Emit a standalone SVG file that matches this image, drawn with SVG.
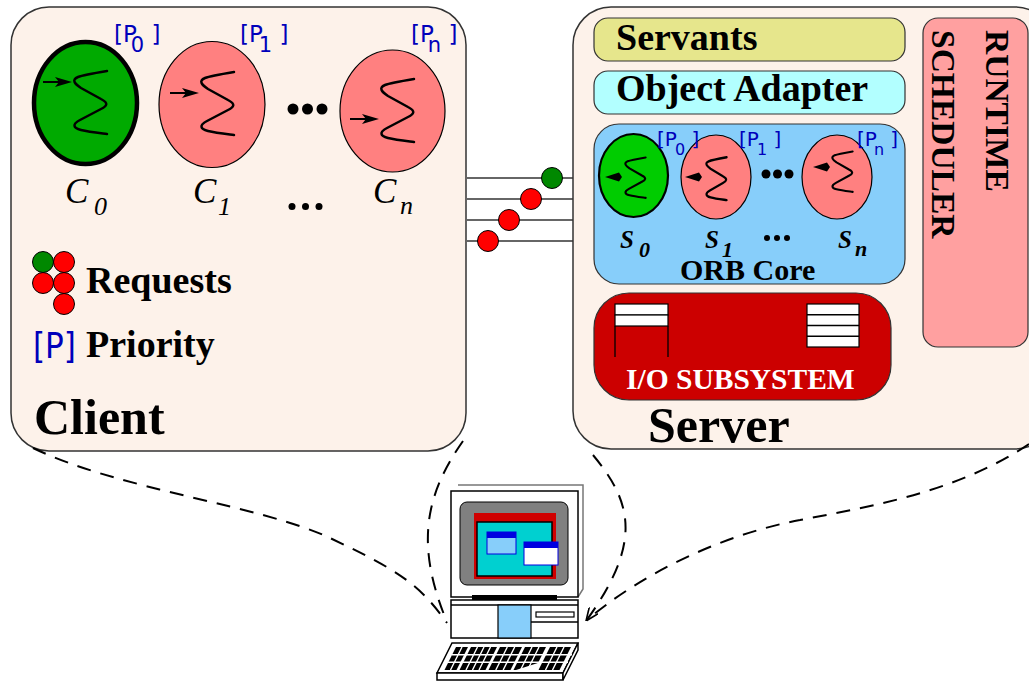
<svg xmlns="http://www.w3.org/2000/svg" width="1029" height="681" viewBox="0 0 1029 681">
<defs>
<style>
.panel{fill:#fdf2ea;stroke:#333;stroke-width:1.5}
.bold{font-family:"Liberation Serif","Times New Roman",serif;font-weight:bold;fill:#000}
.ital{font-family:"Liberation Serif","Times New Roman",serif;font-style:italic;fill:#000}
.bital{font-family:"Liberation Serif","Times New Roman",serif;font-style:italic;font-weight:bold;fill:#000}
.prio{font-family:"DejaVu Sans","Liberation Sans",sans-serif;fill:#0000bb}
.thread{fill:none;stroke:#000;stroke-width:2.5;stroke-linecap:round;stroke-linejoin:round}
.thread-s{fill:none;stroke:#000;stroke-width:3.4;stroke-linecap:round;stroke-linejoin:round}
.lo{fill:#ff8080;stroke:#000;stroke-width:1.2}
.dash{fill:none;stroke:#000;stroke-width:2;stroke-dasharray:14 10}
.wire{stroke:#333;stroke-width:1.5}
.req-hi{fill:#008800;stroke:#000;stroke-width:1}
.req-lo{fill:#ff0000;stroke:#000;stroke-width:1}
.tail{stroke:#000;stroke-width:2}
.ln{fill:none;stroke:#000;stroke-width:1.3}
.key{fill:#000}
.keygap{fill:none;stroke:#fff;stroke-width:1.4}
</style>
<!-- thread zigzag, drawn around its task's centre -->
<path id="wave" d="M22,-32 C10,-30 -2,-28 -7,-26 C-14,-23 -10,-19 -4,-15 L16,-4 C24,0 22,3 16,6 L-5,17 C-13,21 -12,25 -4,27 C4,29 14,30 22,31"/>
<!-- filled arrow head whose tip sits 13px left of the origin -->
<path id="head" d="M-13,0 L-30,-5 L-26,0 L-30,5 Z"/>
<!-- server-side entry point -->
<path id="shead" d="M0,0 L14,-4.5 L17,0 L14,4.5 Z"/>
<marker id="open-arrow" viewBox="0 0 12 10" refX="12" refY="5" markerWidth="13" markerHeight="11" markerUnits="userSpaceOnUse" orient="auto">
<path d="M0,0 L12,5 L0,10" fill="none" stroke="#000" stroke-width="1.5"/>
</marker>
</defs>

<rect width="1029" height="681" fill="#fff"/>

<!-- client host -->
<g id="client">
<rect class="panel" x="11" y="7" width="455" height="444" rx="38"/>
<ellipse cx="85.5" cy="103" rx="51.5" ry="61" fill="#00aa00" stroke="#000" stroke-width="4.5"/>
<use href="#wave" class="thread" transform="translate(85,103)"/>
<line class="tail" x1="43" y1="82" x2="64" y2="82"/>
<use href="#head" transform="translate(85,82)"/>
<ellipse class="lo" cx="212" cy="104.5" rx="53" ry="63"/>
<use href="#wave" class="thread" transform="translate(212,104)"/>
<line class="tail" x1="170" y1="93" x2="191" y2="93"/>
<use href="#head" transform="translate(212,93)"/>
<g fill="#000"><circle cx="293" cy="109" r="5.5"/><circle cx="307.5" cy="109" r="5.5"/><circle cx="322" cy="109" r="5.5"/></g>
<ellipse class="lo" cx="392.5" cy="111" rx="52.5" ry="61"/>
<use href="#wave" class="thread" transform="translate(392,111)"/>
<line class="tail" x1="350" y1="119" x2="371" y2="119"/>
<use href="#head" transform="translate(392,119)"/>

<text class="prio" x="114" y="42" font-size="23">[P<tspan dy="10" dx="-6" font-size="21">0</tspan><tspan dy="-10"> ]</tspan></text>
<text class="prio" x="240" y="42" font-size="23">[P<tspan dy="10" dx="-4" font-size="21">1</tspan><tspan dy="-10"> ]</tspan></text>
<text class="prio" x="411" y="42" font-size="23">[P<tspan dy="10" dx="-6" font-size="21">n</tspan><tspan dy="-10"> ]</tspan></text>

<text class="ital" x="65" y="203" font-size="35">C</text><text class="ital" x="94" y="215" font-size="26">0</text>
<text class="ital" x="193" y="203" font-size="35">C</text><text class="ital" x="218" y="215" font-size="26">1</text>
<g fill="#000"><circle cx="292" cy="206.5" r="3.5"/><circle cx="305.5" cy="206.5" r="3.5"/><circle cx="319" cy="206.5" r="3.5"/></g>
<text class="ital" x="373" y="203" font-size="35">C</text><text class="ital" x="400" y="214" font-size="26">n</text>

<circle class="req-hi" cx="43" cy="262" r="10.5"/>
<circle class="req-lo" cx="64" cy="262" r="10.5"/>
<circle class="req-lo" cx="43" cy="283" r="10.5"/>
<circle class="req-lo" cx="64" cy="283" r="10.5"/>
<circle class="req-lo" cx="64" cy="304" r="10.5"/>
<text class="bold" x="86" y="293" font-size="38">Requests</text>
<text class="prio" x="33" y="358" font-size="36" textLength="43" lengthAdjust="spacingAndGlyphs">[P]</text>
<text class="bold" x="86" y="357" font-size="38">Priority</text>
<text class="bold" x="34" y="434" font-size="50">Client</text>
</g>

<!-- server host -->
<g id="server">
<rect class="panel" x="573" y="7" width="480" height="442" rx="38"/>
<text class="bold" x="648" y="442" font-size="50">Server</text>
</g>

<g id="servants">
<rect x="594" y="18" width="311" height="43" rx="14" fill="#e6e68c" stroke="#333" stroke-width="1.2"/>
<text class="bold" x="616" y="50" font-size="38">Servants</text>
</g>

<g id="object-adapter">
<rect x="594" y="71" width="311" height="43" rx="14" fill="#b2ffff" stroke="#333" stroke-width="1.2"/>
<text class="bold" x="616" y="101" font-size="38">Object Adapter</text>
</g>

<g id="orb-core">
<rect x="594" y="124" width="311" height="160" rx="25" fill="#87cefa" stroke="#333" stroke-width="1.2"/>
<ellipse cx="633.5" cy="175.5" rx="34.5" ry="41.5" fill="#00cc00" stroke="#000" stroke-width="2.2"/>
<use href="#wave" class="thread-s" transform="translate(632,178) scale(0.62,0.64)"/>
<use href="#shead" transform="translate(605,177)"/>
<ellipse class="lo" cx="716" cy="177" rx="35" ry="42"/>
<use href="#wave" class="thread-s" transform="translate(713,179) scale(0.62,0.68)"/>
<use href="#shead" transform="translate(685,177)"/>
<g fill="#000"><circle cx="766" cy="174" r="4.5"/><circle cx="777.5" cy="174" r="4.5"/><circle cx="789" cy="174" r="4.5"/></g>
<ellipse class="lo" cx="837" cy="177" rx="35" ry="42"/>
<use href="#wave" class="thread-s" transform="translate(839,172) scale(0.62,0.64)"/>
<use href="#shead" transform="translate(813,167)"/>

<text class="prio" x="657" y="146" font-size="20">[P<tspan dy="9" dx="-2" font-size="16">0</tspan><tspan dy="-9"> ]</tspan></text>
<text class="prio" x="739" y="146" font-size="20">[P<tspan dy="9" dx="-2" font-size="16">1</tspan><tspan dy="-9"> ]</tspan></text>
<text class="prio" x="857" y="146" font-size="20">[P<tspan dy="9" dx="-3" font-size="16">n</tspan><tspan dy="-9"> ]</tspan></text>

<text class="bital" x="620" y="248" font-size="25">S</text><text class="bital" x="639" y="257" font-size="22">0</text>
<text class="bital" x="705" y="248" font-size="25">S</text><text class="bital" x="722" y="257" font-size="22">1</text>
<g fill="#000"><circle cx="767" cy="238" r="3"/><circle cx="777" cy="238" r="3"/><circle cx="787" cy="238" r="3"/></g>
<text class="bital" x="838" y="248" font-size="25">S</text><text class="bital" x="855" y="256" font-size="22">n</text>
<text class="bold" x="680" y="280" font-size="30">ORB Core</text>
</g>

<g id="io-subsystem">
<rect x="594" y="293" width="297" height="107" rx="35" fill="#cc0000" stroke="#333" stroke-width="1.2"/>
<rect x="615" y="304" width="53" height="11" fill="#fff" stroke="#000" stroke-width="1.2"/>
<rect x="615" y="315" width="53" height="11" fill="#fff" stroke="#000" stroke-width="1.2"/>
<path class="ln" d="M615,326 V357 M668,326 V357"/>
<rect x="807" y="304" width="52" height="43" fill="#fff" stroke="#000" stroke-width="1.2"/>
<path class="ln" d="M807,314.75 H859 M807,325.5 H859 M807,336.25 H859"/>
<text class="bold" x="626" y="389" font-size="29.5" style="fill:#fff">I/O SUBSYSTEM</text>
</g>

<g id="runtime-scheduler">
<rect x="923" y="18" width="105" height="329" rx="15" fill="#ffa0a0" stroke="#333" stroke-width="1.2"/>
<text class="bold" font-size="33.5" transform="translate(986,30) rotate(90)">RUNTIME</text>
<text class="bold" font-size="33.5" transform="translate(932,30) rotate(90)">SCHEDULER</text>
</g>

<!-- desktop workstation -->
<g id="workstation">
<path d="M458,485 H583 V589 L578,597" fill="none" stroke="#777" stroke-width="1.5"/>
<rect x="451" y="491" width="127" height="106" fill="#fff" stroke="#000" stroke-width="1.5"/>
<rect x="460" y="502" width="108" height="83" rx="7" fill="#808080" stroke="#000" stroke-width="1"/>
<rect x="474" y="513" width="82" height="66" fill="#d00000"/>
<rect x="477" y="522" width="75" height="54" fill="#00d0d0" stroke="#000" stroke-width="1.5"/>
<rect x="487" y="532" width="29" height="22" fill="#87cefa" stroke="#0000e0" stroke-width="1"/>
<rect x="487" y="532" width="29" height="6" fill="#0000e0"/>
<rect x="524" y="542" width="34" height="23" fill="#fff" stroke="#0000e0" stroke-width="1"/>
<rect x="524" y="542" width="34" height="6" fill="#0000e0"/>
<rect x="472" y="595" width="85" height="5" fill="#000"/>
<rect x="451" y="600" width="127" height="38" fill="#fff" stroke="#000" stroke-width="1.5"/>
<line class="ln" x1="451" y1="605" x2="578" y2="605"/>
<rect x="498" y="605" width="33" height="33" fill="#87cefa" stroke="#000" stroke-width="1.2"/>
<line class="ln" x1="531" y1="622" x2="578" y2="622"/>
<rect x="536" y="612" width="38" height="5" fill="#fff" stroke="#000" stroke-width="1.2"/>
<polygon points="452,643 578,643 563,673 437,673" fill="#fff" stroke="#000" stroke-width="1.5"/>
<polygon points="437,673 563,673 563,680 437,680" fill="#fff" stroke="#000" stroke-width="1.5"/>
<polygon points="563,673 578,643 578,650 563,680" fill="#fff" stroke="#000" stroke-width="1.5"/>
<polygon class="key" points="456,647 468,647 456.5,670 444.5,670"/>
<polygon class="key" points="471,647 497,647 485.5,670 459.5,670"/>
<polygon class="key" points="500,647 522,647 510.5,670 488.5,670"/>
<polygon class="key" points="525,647 546,647 534.5,670 513.5,670"/>
<polygon class="key" points="550,647 571,647 559.5,670 538.5,670"/>
<path class="keygap" d="M462,647 l-11.5,23 M477.5,647 l-11.5,23 M484,647 l-11.5,23 M490.5,647 l-11.5,23 M507.3,647 l-11.5,23 M514.7,647 l-11.5,23 M532,647 l-11.5,23 M539,647 l-11.5,23 M557,647 l-11.5,23 M564,647 l-11.5,23 M452,654.7 H572 M448,662.3 H568"/>
<polygon points="516,670 541,662 538,670" fill="#fff"/>
</g>

<!-- network wires and in-flight requests -->
<g id="connectors">
<line class="wire" x1="467" y1="178" x2="573" y2="178"/>
<line class="wire" x1="467" y1="199" x2="573" y2="199"/>
<line class="wire" x1="467" y1="220" x2="573" y2="220"/>
<line class="wire" x1="467" y1="241" x2="573" y2="241"/>
<circle class="req-hi" cx="552" cy="178" r="10.5"/>
<circle class="req-lo" cx="531" cy="199" r="10.5"/>
<circle class="req-lo" cx="509" cy="220" r="10.5"/>
<circle class="req-lo" cx="488" cy="241" r="10.5"/>
<path class="dash" d="M33,448 C120,490 260,505 330,538 S420,585 447,623"/>
<path class="dash" d="M463,441 C425,495 415,545 447,622"/>
<path class="dash" d="M593,455 C630,500 645,540 586,621" marker-end="url(#open-arrow)"/>
<path class="dash" d="M1029,444 C960,490 880,505 800,520 S640,575 587,620"/>
</g>
</svg>
